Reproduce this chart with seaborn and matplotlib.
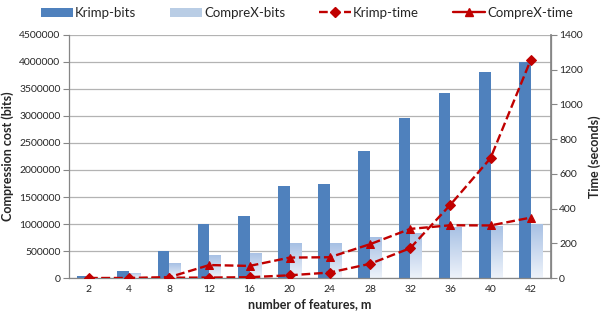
import numpy as np
import pandas as pd
import matplotlib
matplotlib.use("Agg")
import matplotlib.pyplot as plt
from matplotlib.lines import Line2D
from matplotlib.patches import Patch
from matplotlib.colors import LinearSegmentedColormap
import seaborn as sns

features = ["2", "4", "8", "12", "16", "20", "24", "28", "32", "36", "40", "42"]
krimp_bits = [30000, 140000, 500000, 1000000, 1150000, 1700000, 1740000, 2360000, 2960000, 3430000, 3820000, 4000000]
comprex_bits = [10000, 95000, 270000, 420000, 470000, 640000, 645000, 755000, 835000, 950000, 965000, 1000000]
krimp_time = [0, 0, 2, 3, 5, 16, 32, 82, 172, 422, 690, 1255]
comprex_time = [0, 0, 5, 75, 70, 118, 120, 195, 283, 304, 303, 348]

sns.set_theme(style="white")
plt.rcParams['font.family'] = ['Lato', 'DejaVu Sans']

df = pd.DataFrame({
    "m": features * 2,
    "bits": krimp_bits + comprex_bits,
    "method": ["Krimp-bits"] * len(features) + ["CompreX-bits"] * len(features),
})

fig = plt.figure(figsize=(6.14, 3.2), dpi=100)
ax = fig.add_axes([0.112, 0.131, 0.785, 0.76])

c_krimp = "#4F81BD"
c_comp = "#B9CDE5"
c_line = "#C00000"

sns.barplot(data=df, x="m", y="bits", hue="method", order=features,
            hue_order=["Krimp-bits", "CompreX-bits"],
            palette=[c_krimp, c_comp], width=0.58, ax=ax, legend=False,
            saturation=1, edgecolor="none")

# gradient fill for CompreX bars
grad = np.linspace(1, 0, 256).reshape(-1, 1)
cmap = LinearSegmentedColormap.from_list("g", ["#EEF3FA", "#A7C0E4"])
for p in ax.containers[1]:
    x0, y0 = p.get_x(), p.get_y()
    w, h = p.get_width(), p.get_height()
    p.set_facecolor("none")
    im = ax.imshow(grad, extent=[x0, x0 + w, y0, y0 + h], aspect="auto",
                   cmap=cmap, zorder=p.get_zorder(), origin="upper")
    im.set_clip_path(p)

ax.set_xlim(-0.5, len(features) - 0.5)
ax.set_ylim(0, 4500000)
ax.set_yticks(np.arange(0, 4500001, 500000))
ax.set_yticklabels([str(v) for v in range(0, 4500001, 500000)], fontsize=7.5)
ax.yaxis.grid(True, color="#B3B3B3", linewidth=0.9)
ax.set_axisbelow(True)
ax.set_xlabel("number of features, m", fontsize=9, fontweight="bold", labelpad=3)
ax.set_ylabel("Compression cost (bits)", fontsize=9, fontweight="bold", labelpad=4)
ax.tick_params(axis="x", which="major", length=0, labelsize=7.5, pad=5)
ax.set_xticks(np.arange(-0.5, len(features), 1.0), minor=True)
ax.tick_params(axis="x", which="minor", length=4, color="#868686", width=0.8)
ax.tick_params(axis="y", length=4, color="#868686", width=0.8, pad=2, left=True)
for s in ["left", "bottom", "right"]:
    ax.spines[s].set_color("#868686")
    ax.spines[s].set_linewidth(0.9)
ax.spines["top"].set_visible(False)

ax2 = ax.twinx()
pos = np.arange(len(features))
tdf = pd.DataFrame({"pos": pos, "krimp": krimp_time, "comprex": comprex_time})
sns.lineplot(data=tdf, x="pos", y="krimp", ax=ax2, color=c_line, linestyle="--",
             linewidth=1.7, marker="D", markersize=5, markeredgecolor=c_line)
sns.lineplot(data=tdf, x="pos", y="comprex", ax=ax2, color=c_line, linestyle="--",
             linewidth=1.7, marker="^", markersize=6, markeredgecolor=c_line)
ax2.set_ylim(0, 1400)
ax2.set_xlim(-0.5, len(features) - 0.5)
ax2.set_yticks(np.arange(0, 1401, 200))
ax2.tick_params(axis="y", labelsize=7.5, length=4, color="#868686", width=0.8, pad=2, right=True)
ax2.set_ylabel("Time (seconds)", fontsize=9, fontweight="bold", labelpad=4)
ax2.set_xlabel("")
for s in ["top", "left", "bottom"]:
    ax2.spines[s].set_visible(False)
ax2.spines["right"].set_color("#868686")
ax2.grid(False)

handles = [
    Patch(facecolor=c_krimp, edgecolor="none"),
    Patch(facecolor=c_comp, edgecolor="none"),
    Line2D([], [], color=c_line, linestyle="--", linewidth=1.7, marker="D", markersize=5),
    Line2D([], [], color=c_line, linestyle="-", linewidth=1.7, marker="^", markersize=6),
]
labels = ["Krimp-bits", "CompreX-bits", "Krimp-time", "CompreX-time"]
fig.legend(handles, labels, loc="upper center", bbox_to_anchor=(0.5, 1.015), ncol=4,
           frameon=False, fontsize=9.5, handlelength=2.4, handletextpad=0.15,
           columnspacing=2.6)

fig.savefig("out.png", dpi=100)
